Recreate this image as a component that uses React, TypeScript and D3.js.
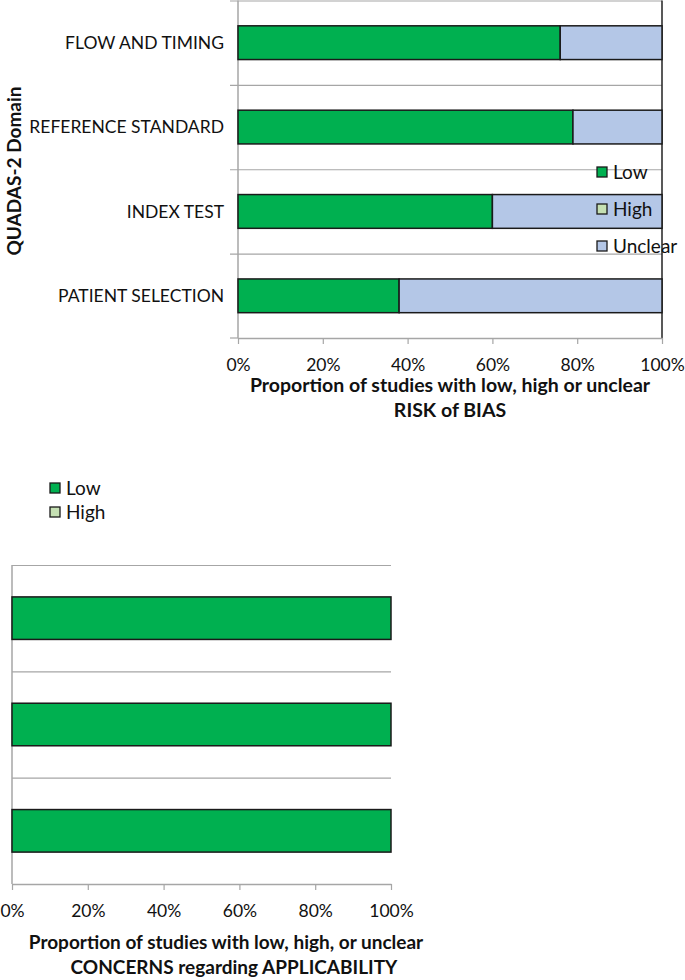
import React, { useEffect, useRef } from 'react';
import * as d3 from 'd3';

// risk of bias chart (top)
const biasDomains = ["FLOW AND TIMING", "REFERENCE STANDARD", "INDEX TEST", "PATIENT SELECTION"];
const biasLow = [0.76, 0.79, 0.6, 0.38];
const biasHigh = [0, 0, 0, 0];
const biasUnclear = [0.24, 0.21, 0.4, 0.62];

// applicability chart (bottom), labels not shown in the figure
const applDomains = ["REFERENCE STANDARD", "INDEX TEST", "PATIENT SELECTION"];
const applLow = [1, 1, 1];
const applHigh = [0, 0, 0];

const tickValues = [0, 0.2, 0.4, 0.6, 0.8, 1];
const seriesNames = ["Low", "High", "Unclear"];
const seriesColors = ["#00B050", "#C5E0B3", "#B4C7E7"];

const FONT = "Lato, 'Open Sans', sans-serif";
const GRID = "#A6A6A6";

type Row = { domain: string; Low: number; High: number; Unclear: number };

function drawChart(
  svg: d3.Selection<SVGSVGElement, unknown, null, undefined>,
  rows: Row[],
  keys: string[],
  xRange: [number, number],
  yRange: [number, number],
  opts: { leftTicks: boolean; rightBorder: boolean }
) {
  const x = d3.scaleLinear().domain([0, 1]).range(xRange);
  const y = d3.scaleBand<string>()
    .domain(rows.map(d => d.domain))
    .range(yRange)
    .paddingInner(0.6)
    .paddingOuter(0.3);

  const g = svg.append("g");
  const step = y.step();

  // category boundary lines
  const bounds = d3.range(rows.length).map(i => yRange[0] + i * step);
  g.selectAll(".grid")
    .data(bounds)
    .enter().append("line")
    .attr("x1", opts.leftTicks ? xRange[0] - 8 : xRange[0])
    .attr("x2", xRange[1])
    .attr("y1", d => d + 0.5)
    .attr("y2", d => d + 0.5)
    .attr("stroke", GRID)
    .attr("stroke-width", 1.2);

  if (opts.leftTicks) {
    g.append("line")
      .attr("x1", xRange[0] - 8).attr("x2", xRange[0])
      .attr("y1", yRange[1]).attr("y2", yRange[1])
      .attr("stroke", GRID).attr("stroke-width", 1.2);
  }

  // left axis line
  g.append("line")
    .attr("x1", xRange[0]).attr("x2", xRange[0])
    .attr("y1", yRange[0]).attr("y2", yRange[1])
    .attr("stroke", GRID).attr("stroke-width", 1.5);

  if (opts.rightBorder) {
    g.append("line")
      .attr("x1", xRange[1]).attr("x2", xRange[1])
      .attr("y1", yRange[0]).attr("y2", yRange[1])
      .attr("stroke", "#222").attr("stroke-width", 1.5);
  }

  const stacked = d3.stack<Row>().keys(keys)(rows);
  g.selectAll(".series")
    .data(stacked)
    .enter().append("g")
    .attr("fill", d => seriesColors[seriesNames.indexOf(d.key)])
    .selectAll("rect")
    .data(d => d.filter(s => s[1] - s[0] > 0))
    .enter().append("rect")
    .attr("x", d => x(d[0]))
    .attr("width", d => x(d[1]) - x(d[0]))
    .attr("y", d => y(d.data.domain) as number)
    .attr("height", y.bandwidth())
    .attr("stroke", "#1a1a1a")
    .attr("stroke-width", 1.5);

  // bottom axis
  const axis = g.append("g")
    .attr("transform", `translate(0,${yRange[1]})`)
    .call(d3.axisBottom(x).tickValues(tickValues).tickSize(6).tickSizeOuter(0)
      .tickFormat(d => d3.format(".0%")(d as number)));
  axis.select(".domain").attr("stroke", GRID).attr("stroke-width", 1.5);
  axis.selectAll(".tick line").attr("stroke", GRID).attr("stroke-width", 1.2);
  axis.selectAll(".tick text")
    .attr("fill", "#111")
    .attr("font-family", FONT)
    .attr("font-size", 17.5)
    .attr("dy", "1.35em");

  return { x, y };
}

const App: React.FC = () => {
  const ref = useRef<SVGSVGElement | null>(null);

  useEffect(() => {
    if (!ref.current) return;
    const svg = d3.select(ref.current);
    svg.selectAll("*").remove();

    // ---------- top chart ----------
    const biasRows: Row[] = biasDomains.map((d, i) => ({
      domain: d, Low: biasLow[i], High: biasHigh[i], Unclear: biasUnclear[i]
    }));
    const top = drawChart(svg, biasRows, ["Low", "High", "Unclear"], [238, 662], [0.5, 338], { leftTicks: true, rightBorder: true });

    svg.append("g").selectAll("text")
      .data(biasDomains)
      .enter().append("text")
      .attr("x", 224)
      .attr("y", d => (top.y(d) as number) + top.y.bandwidth() / 2)
      .attr("dy", "0.35em")
      .attr("text-anchor", "end")
      .attr("font-family", FONT)
      .attr("font-size", 17.5)
      .attr("fill", "#111")
      .text(d => d);

    svg.append("text")
      .attr("transform", "translate(21,171) rotate(-90)")
      .attr("text-anchor", "middle")
      .attr("font-family", FONT)
      .attr("font-weight", "bold")
      .attr("font-size", 19)
      .attr("fill", "#111")
      .text("QUADAS-2 Domain");

    const topLegend = svg.append("g").selectAll("g")
      .data(seriesNames)
      .enter().append("g")
      .attr("transform", (d, i) => `translate(597,${167 + i * 37})`);
    topLegend.append("rect")
      .attr("width", 10).attr("height", 10)
      .attr("fill", (d, i) => seriesColors[i])
      .attr("stroke", "#1a1a1a").attr("stroke-width", 1.3);
    topLegend.append("text")
      .attr("x", 16).attr("y", 5).attr("dy", "0.35em")
      .attr("font-family", FONT).attr("font-size", 19).attr("fill", "#111")
      .text(d => d);

    const topTitle = svg.append("text")
      .attr("text-anchor", "middle")
      .attr("font-family", FONT).attr("font-weight", "bold").attr("font-size", 19.5)
      .attr("fill", "#111");
    topTitle.append("tspan").attr("x", 450).attr("y", 392).text("Proportion of studies with low, high or unclear");
    topTitle.append("tspan").attr("x", 450).attr("y", 417).text("RISK of BIAS");

    // ---------- bottom chart ----------
    const applRows: Row[] = applDomains.map((d, i) => ({
      domain: d, Low: applLow[i], High: applHigh[i], Unclear: 0
    }));
    drawChart(svg, applRows, ["Low", "High"], [12, 391], [565, 884], { leftTicks: false, rightBorder: false });

    const botLegend = svg.append("g").selectAll("g")
      .data(seriesNames.slice(0, 2))
      .enter().append("g")
      .attr("transform", (d, i) => `translate(50,${483 + i * 24})`);
    botLegend.append("rect")
      .attr("width", 10).attr("height", 10)
      .attr("fill", (d, i) => seriesColors[i])
      .attr("stroke", "#1a1a1a").attr("stroke-width", 1.3);
    botLegend.append("text")
      .attr("x", 16).attr("y", 5).attr("dy", "0.35em")
      .attr("font-family", FONT).attr("font-size", 19).attr("fill", "#111")
      .text(d => d);

    const botTitle = svg.append("text")
      .attr("text-anchor", "middle")
      .attr("font-family", FONT).attr("font-weight", "bold").attr("font-size", 19)
      .attr("fill", "#111");
    botTitle.append("tspan").attr("x", 226).attr("y", 949).text("Proportion of studies with low, high, or unclear");
    botTitle.append("tspan").attr("x", 234).attr("y", 974).text("CONCERNS regarding APPLICABILITY");
  }, []);

  return (
    <svg
      ref={ref}
      width={685}
      height={980}
      style={{ position: "absolute", left: 0, top: 0, background: "#fff" }}
    />
  );
};

export default App;
